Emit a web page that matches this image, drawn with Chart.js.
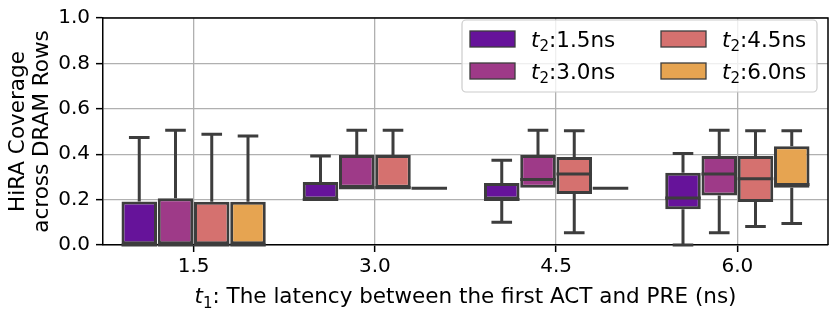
<!DOCTYPE html>
<html>
<head>
<meta charset="utf-8">
<script src="https://cdn.jsdelivr.net/npm/chart.js@4.4.1/dist/chart.umd.min.js"></script>
<style>
  html, body { margin: 0; padding: 0; background: #fff; }
  #wrap { position: relative; width: 830px; height: 312px; }
</style>
</head>
<body>
<div id="wrap"><canvas id="chartBox"></canvas></div>
<script>
// t1 groups on the x axis
const categories = ["1.5", "3.0", "4.5", "6.0"];
const yTicks = [0, 0.2, 0.4, 0.6, 0.8, 1.0];
const hueLabels = ["1.5", "3.0", "4.5", "6.0"];
const hueColors = ["#66139a", "#9e3a88", "#d5716f", "#e6a451"];

// box stats per t2 value, one entry per t1 group
const whiskerLo = [
  [0.00, 0.20, 0.10, 0.00],
  [0.00, 0.252, 0.252, 0.054],
  [0.00, 0.252, 0.054, 0.082],
  [0.00, 0.25, 0.25, 0.095]
];
const q1 = [
  [0.00, 0.20, 0.20, 0.157],
  [0.00, 0.252, 0.252, 0.218],
  [0.00, 0.252, 0.225, 0.189],
  [0.00, 0.25, 0.25, 0.252]
];
const median = [
  [0.00, 0.20, 0.20, 0.207],
  [0.00, 0.252, 0.289, 0.313],
  [0.00, 0.252, 0.313, 0.292],
  [0.00, 0.25, 0.25, 0.266]
];
const q3 = [
  [0.192, 0.278, 0.273, 0.318],
  [0.206, 0.396, 0.396, 0.392],
  [0.190, 0.396, 0.388, 0.392],
  [0.190, 0.25, 0.25, 0.435]
];
const whiskerHi = [
  [0.474, 0.392, 0.373, 0.403],
  [0.505, 0.505, 0.505, 0.505],
  [0.488, 0.505, 0.503, 0.503],
  [0.480, 0.25, 0.25, 0.503]
];

const EDGE = "#3d3d3d";
const FONT = "'DejaVu Sans', sans-serif";

const boxPlugin = {
  id: "boxParts",
  afterDatasetsDraw(chart) {
    const ctx = chart.ctx;
    const y = chart.scales.y;
    ctx.save();
    ctx.strokeStyle = EDGE;
    ctx.lineWidth = 3;
    ctx.lineCap = "butt";
    chart.data.datasets.forEach((ds, i) => {
      const meta = chart.getDatasetMeta(i);
      meta.data.forEach((bar, j) => {
        const x = bar.x, w = bar.width;
        const cap = w * 0.29;
        const pQ1 = y.getPixelForValue(q1[i][j]);
        const pQ3 = y.getPixelForValue(q3[i][j]);
        const pLo = y.getPixelForValue(whiskerLo[i][j]);
        const pHi = y.getPixelForValue(whiskerHi[i][j]);
        const pMed = y.getPixelForValue(median[i][j]);
        ctx.beginPath();
        if (whiskerHi[i][j] > q3[i][j]) {
          ctx.moveTo(x, pQ3); ctx.lineTo(x, pHi);
          ctx.moveTo(x - cap, pHi); ctx.lineTo(x + cap, pHi);
        }
        if (whiskerLo[i][j] < q1[i][j]) {
          ctx.moveTo(x, pQ1); ctx.lineTo(x, pLo);
          ctx.moveTo(x - cap, pLo); ctx.lineTo(x + cap, pLo);
        }
        ctx.moveTo(x - w / 2, pMed); ctx.lineTo(x + w / 2, pMed);
        ctx.stroke();
      });
    });
    ctx.restore();
  },
  afterDraw(chart) {
    const ctx = chart.ctx;
    const a = chart.chartArea;
    ctx.save();
    // frame on top and right
    ctx.strokeStyle = "#000";
    ctx.lineWidth = 1.5;
    ctx.beginPath();
    ctx.moveTo(a.left, a.top); ctx.lineTo(a.right, a.top); ctx.lineTo(a.right, a.bottom);
    ctx.stroke();

    // legend
    const lx = 462, ly = 20, lw = 355, lh = 72;
    ctx.beginPath();
    ctx.roundRect(lx, ly, lw, lh, 4);
    ctx.fillStyle = "rgba(255,255,255,0.8)";
    ctx.fill();
    ctx.strokeStyle = "#cccccc";
    ctx.lineWidth = 1.2;
    ctx.stroke();
    const cols = [470, 661], rows = [31, 63];
    hueLabels.forEach((lab, k) => {
      const px = cols[Math.floor(k / 2)], py = rows[k % 2];
      ctx.fillStyle = hueColors[k];
      ctx.fillRect(px, py, 45, 16);
      ctx.strokeStyle = EDGE;
      ctx.lineWidth = 1.3;
      ctx.strokeRect(px, py, 45, 16);
      drawSub(ctx, px + 61, py + 15.5, "t", "2", ":" + lab + "ns", 21.5, "left");
    });

    // axis titles
    ctx.fillStyle = "#000";
    drawSub(ctx, (a.left + a.right) / 2, 303, "t", "1", ": The latency between the first ACT and PRE (ns)", 21.5, "center");
    ctx.save();
    ctx.translate(0, (a.top + a.bottom) / 2);
    ctx.rotate(-Math.PI / 2);
    ctx.font = "21.5px " + FONT;
    ctx.textAlign = "center";
    ctx.textBaseline = "alphabetic";
    ctx.fillText("HiRA Coverage", 0, 24);
    ctx.fillText("across DRAM Rows", 0, 48);
    ctx.restore();
    ctx.restore();
  }
};

// italic symbol with subscript, then plain text
function drawSub(ctx, x, base, sym, sub, rest, size, align) {
  const fIt = "italic " + size + "px " + FONT;
  const fSub = Math.round(size * 0.7) + "px " + FONT;
  const fN = size + "px " + FONT;
  ctx.font = fIt; const w1 = ctx.measureText(sym).width;
  ctx.font = fSub; const w2 = ctx.measureText(sub).width;
  ctx.font = fN; const w3 = ctx.measureText(rest).width;
  let sx = align === "center" ? x - (w1 + w2 + w3) / 2 : x;
  ctx.fillStyle = "#000";
  ctx.textAlign = "left";
  ctx.textBaseline = "alphabetic";
  ctx.font = fIt; ctx.fillText(sym, sx, base);
  ctx.font = fSub; ctx.fillText(sub, sx + w1, base + size * 0.22);
  ctx.font = fN; ctx.fillText(rest, sx + w1 + w2, base);
}

const datasets = hueLabels.map((lab, i) => ({
  label: "t2:" + lab + "ns",
  data: categories.map((c, j) => [q1[i][j], q3[i][j]]),
  backgroundColor: hueColors[i],
  borderColor: EDGE,
  borderWidth: 3,
  borderSkipped: false,
  categoryPercentage: 0.8,
  barPercentage: 0.98
}));

new Chart(document.getElementById("chartBox"), {
  type: "bar",
  data: { labels: categories, datasets },
  options: {
    responsive: true,
    maintainAspectRatio: false,
    animation: false,
    layout: { padding: { left: 0, top: 11, right: 2, bottom: 0 } },
    plugins: { legend: { display: false }, tooltip: { enabled: false } },
    scales: {
      x: {
        afterFit: s => { s.height = 67; },
        grid: { offset: false, color: "#b0b0b0", lineWidth: 1.3, tickLength: 7, tickColor: "#000", tickWidth: 1.5 },
        border: { color: "#000", width: 1.5 },
        ticks: { color: "#000", font: { family: FONT, size: 20 }, padding: 3 }
      },
      y: {
        min: 0, max: 1,
        afterFit: s => { s.width = 103; },
        afterBuildTicks: s => { s.ticks = yTicks.map(v => ({ value: v })); },
        grid: { color: "#b0b0b0", lineWidth: 1.3, tickLength: 7, tickColor: "#000", tickWidth: 1.5 },
        border: { color: "#000", width: 1.5 },
        ticks: { color: "#000", font: { family: FONT, size: 20 }, padding: 6, callback: v => v.toFixed(1) }
      }
    }
  },
  plugins: [boxPlugin]
});
</script>
</body>
</html>
